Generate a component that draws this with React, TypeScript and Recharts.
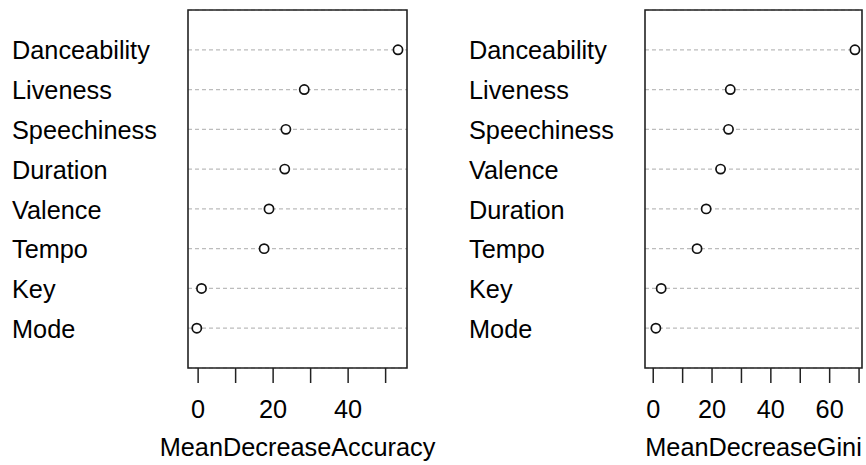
import React from "react";
import {
  ScatterChart,
  Scatter,
  XAxis,
  YAxis,
  CartesianGrid,
  ReferenceArea,
} from "recharts";

// left panel: MeanDecreaseAccuracy (top to bottom)
const accNames = ["Danceability", "Liveness", "Speechiness", "Duration", "Valence", "Tempo", "Key", "Mode"];
const accValues = [53.3, 28.3, 23.4, 23.1, 18.9, 17.6, 0.9, -0.35];
const accTicks = [0, 10, 20, 30, 40, 50];

// right panel: MeanDecreaseGini (top to bottom)
const giniNames = ["Danceability", "Liveness", "Speechiness", "Valence", "Duration", "Tempo", "Key", "Mode"];
const giniValues = [68.6, 26.2, 25.6, 22.9, 18.0, 14.9, 2.7, 0.9];
const giniTicks = [0, 10, 20, 30, 40, 50, 60, 70];

const FONT = 25.3;

type PanelProps = {
  names: string[];
  values: number[];
  ticks: number[];
  domain: [number, number];
  title: string;
  width: number;
  axisWidth: number;
  rightMargin: number;
  labelX: number;
};

function OpenDot(props: any) {
  const { cx, cy } = props;
  return <circle cx={cx} cy={cy} r={4.6} fill="#fff" stroke="#111" strokeWidth={1.7} />;
}

function Panel({ names, values, ticks, domain, title, width, axisWidth, rightMargin, labelX }: PanelProps) {
  const n = names.length;
  const data = names.map((name, i) => ({ name, x: values[i], y: n - i }));
  const rows = names.map((_, i) => n - i).reverse();

  return (
    <ScatterChart
      width={width}
      height={465}
      margin={{ top: 10, right: rightMargin, bottom: 0, left: 0 }}
      style={{ overflow: "visible" }}
    >
      <CartesianGrid vertical={false} stroke="#bcbcbc" strokeWidth={1.2} strokeDasharray="4 3" />
      <XAxis
        type="number"
        dataKey="x"
        domain={domain}
        ticks={ticks}
        allowDataOverflow
        axisLine={false}
        tickSize={15}
        tickMargin={17}
        height={97}
        tickLine={{ stroke: "#222", strokeWidth: 1.5 }}
        tick={{ fontSize: FONT, fill: "#000" }}
        tickFormatter={(v: number) => (v % 20 === 0 ? String(v) : "")}
        interval={0}
        label={{ value: title, position: "insideBottom", offset: 9, fontSize: FONT, fill: "#000" }}
      />
      <YAxis
        type="number"
        dataKey="y"
        domain={[0, n + 1]}
        ticks={rows}
        width={axisWidth}
        axisLine={false}
        tickLine={false}
        interval={0}
        tick={(p: any) => (
          <text x={labelX} y={p.y} dy="0.38em" textAnchor="start" fontSize={FONT} fill="#000">
            {names[n - p.payload.value]}
          </text>
        )}
      />
      <ReferenceArea
        x1={domain[0]}
        x2={domain[1]}
        y1={0}
        y2={n + 1}
        fill="none"
        stroke="#222"
        strokeWidth={1.6}
        fillOpacity={0}
        ifOverflow="visible"
      />
      <Scatter data={data} shape={<OpenDot />} isAnimationActive={false} />
    </ScatterChart>
  );
}

export default function App() {
  return (
    <div
      style={{
        position: "absolute",
        left: 0,
        top: 0,
        width: 866,
        height: 465,
        background: "#fff",
        display: "flex",
        fontFamily: "'Liberation Sans', Arial, sans-serif",
      }}
    >
      <Panel
        names={accNames}
        values={accValues}
        ticks={accTicks}
        domain={[-2.7, 55.7]}
        title="MeanDecreaseAccuracy"
        width={440}
        axisWidth={188}
        rightMargin={33}
        labelX={12}
      />
      <Panel
        names={giniNames}
        values={giniValues}
        ticks={giniTicks}
        domain={[-2.8, 71.0]}
        title="MeanDecreaseGini"
        width={426}
        axisWidth={205}
        rightMargin={4}
        labelX={29}
      />
    </div>
  );
}
